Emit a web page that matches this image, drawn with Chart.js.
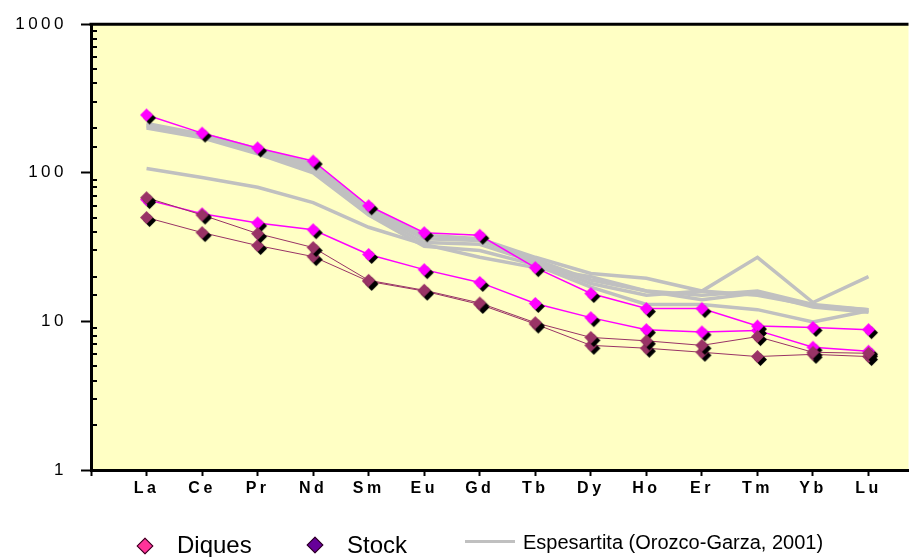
<!DOCTYPE html>
<html>
<head>
<meta charset="utf-8">
<script src="https://cdn.jsdelivr.net/npm/chart.js@4/dist/chart.umd.min.js"></script>
<style>
  body { margin: 0; background: #fff; }
  #wrap { position: relative; width: 914px; height: 557px; overflow: hidden; font-family: Arial, "Liberation Sans", sans-serif; }
  .lg { position: absolute; white-space: nowrap; line-height: 1; color: #000; }
  .dia { position: absolute; width: 12px; height: 12px; transform: rotate(45deg); border: 1px solid #2a0018; box-sizing: border-box; }
</style>
</head>
<body>
<div id="wrap">
  <canvas id="chart" width="914" height="557"></canvas>
  <div class="dia" style="left:139px;top:540px;background:#ff3399"></div>
  <div class="lg" style="left:177px;top:533px;font-size:24px">Diques</div>
  <div class="dia" style="left:309px;top:539px;background:#660099"></div>
  <div class="lg" style="left:347px;top:533px;font-size:24px">Stock</div>
  <div style="position:absolute;left:465px;top:540px;width:50px;height:3px;background:#c0c0c0"></div>
  <div class="lg" style="left:523px;top:532px;font-size:20px">Espesartita (Orozco-Garza, 2001)</div>
</div>
<script>
// REE categories
const categories = ['La', 'Ce', 'Pr', 'Nd', 'Sm', 'Eu', 'Gd', 'Tb', 'Dy', 'Ho', 'Er', 'Tm', 'Yb', 'Lu'];
const yTicks = [1, 10, 100, 1000];

// Diques
const diques1 = [245, 185, 147, 120, 60, 39.5, 38, 23, 15.4, 12.2, 12.2, 9.3, 9.1, 8.8];
const diques2 = [66, 53, 46, 41.4, 28.2, 22.3, 18.3, 13.2, 10.6, 8.8, 8.5, 8.7, 6.7, 6.3];

// Stock
const stock1 = [68, 52, 39, 31.4, 18.9, 16.2, 13.3, 9.8, 7.8, 7.4, 6.9, 7.9, 6.2, 6.1];
const stock2 = [50, 39.6, 32.4, 27.3, 18.6, 16, 13, 9.6, 6.9, 6.6, 6.2, 5.8, 6.0, 5.8];

// Espesartita (Orozco-Garza, 2001)
const esp1 = [215, 182, 145, 115, 58, 38, 36, 27, 21, 19.5, 16, 27, 13.4, 20];
const esp2 = [210, 178, 140, 110, 56, 36, 35, 26, 19, 16, 15, 16, 13, 12];
const esp3 = [205, 175, 138, 105, 54, 34, 33, 25, 18, 15, 16, 15, 12.8, 12];
const esp4 = [200, 172, 134, 100, 52, 32, 30, 24, 17, 13, 13, 12, 9.9, 11.8];
const esp5 = [107, 93, 80, 63, 43, 33, 27, 23, 20, 16, 14, 15.5, 12.5, 11.5];

const toPoints = vals => vals.map((v, i) => ({ x: i + 1, y: v }));
const isMajor = v => Math.abs(Math.log10(v) - Math.round(Math.log10(v))) < 1e-9;

// diamond marker with a black drop shadow
function diamondMarker(fill, r) {
    const off = 3;
    const size = 2 * (r + off) + 2;
    const c = document.createElement('canvas');
    c.width = c.height = size;
    const g = c.getContext('2d');
    const cx = size / 2;
    const diamond = (x, y, col) => {
        g.beginPath();
        g.moveTo(x, y - r);
        g.lineTo(x + r, y);
        g.lineTo(x, y + r);
        g.lineTo(x - r, y);
        g.closePath();
        g.fillStyle = col;
        g.fill();
    };
    diamond(cx + off, cx + off, '#000');
    diamond(cx, cx, fill);
    return c;
}

const pinkMarker = diamondMarker('#ff00ff', 6.5);
const stockMarker = diamondMarker('#993366', 6.5);

const grayLine = vals => ({
    data: toPoints(vals),
    borderColor: '#c0c0c0',
    borderWidth: 3.5,
    pointRadius: 0,
    order: 3
});
const diqueLine = vals => ({
    data: toPoints(vals),
    borderColor: '#ff00ff',
    borderWidth: 1.5,
    pointStyle: pinkMarker,
    order: 2
});
const stockLine = vals => ({
    data: toPoints(vals),
    borderColor: '#993366',
    borderWidth: 1,
    pointStyle: stockMarker,
    order: 1
});

const plotFrame = {
    id: 'plotFrame',
    beforeDraw(chart) {
        const { ctx, chartArea: a } = chart;
        ctx.save();
        ctx.fillStyle = '#ffffc4';
        ctx.fillRect(a.left, a.top, a.width, a.height);
        ctx.restore();
        ctx.letterSpacing = '3.5px';
    },
    afterDraw(chart) {
        const { ctx, chartArea: a } = chart;
        const y = chart.scales.y;
        ctx.save();
        ctx.strokeStyle = '#000';
        ctx.lineWidth = 3;
        ctx.beginPath();
        ctx.moveTo(a.left - 1.5, a.top);
        ctx.lineTo(a.right, a.top);
        ctx.stroke();
        ctx.lineWidth = 2;
        y.ticks.forEach(t => {
            if (isMajor(t.value)) return;
            const py = Math.round(y.getPixelForValue(t.value));
            ctx.beginPath();
            ctx.moveTo(a.left, py);
            ctx.lineTo(a.left + 6, py);
            ctx.stroke();
        });
        ctx.restore();
        ctx.letterSpacing = '0px';
    }
};

new Chart(document.getElementById('chart'), {
    type: 'line',
    data: {
        datasets: [
            diqueLine(diques1), diqueLine(diques2),
            stockLine(stock1), stockLine(stock2),
            grayLine(esp1), grayLine(esp2), grayLine(esp3), grayLine(esp4), grayLine(esp5)
        ]
    },
    options: {
        responsive: false,
        animation: false,
        layout: { padding: { top: 23, right: 0, left: 0, bottom: 0 } },
        elements: { line: { tension: 0 } },
        plugins: { legend: { display: false }, tooltip: { enabled: false } },
        scales: {
            x: {
                type: 'linear',
                min: 0,
                max: 14.72,
                afterBuildTicks: s => { s.ticks = [0, ...categories.map((c, i) => i + 1)].map(v => ({ value: v })); },
                afterFit: s => { s.height = 87; },
                grid: { drawOnChartArea: false, tickLength: 6, tickWidth: 2, tickColor: '#000' },
                border: { color: '#000', width: 3 },
                ticks: {
                    color: '#000',
                    font: { family: 'Arial', size: 16, weight: 'bold' },
                    padding: 3,
                    maxRotation: 0,
                    autoSkip: false,
                    callback: v => categories[v - 1] || ''
                }
            },
            y: {
                type: 'logarithmic',
                min: 1,
                max: 1000,
                afterFit: s => { s.width = 91; },
                grid: {
                    drawOnChartArea: false,
                    tickLength: 10,
                    tickWidth: 2,
                    tickColor: c => isMajor(c.tick.value) ? '#000' : 'rgba(0,0,0,0)'
                },
                border: { color: '#000', width: 3 },
                ticks: {
                    color: '#000',
                    font: { family: 'Arial', size: 17 },
                    padding: 14,
                    autoSkip: false,
                    callback: v => yTicks.includes(v) ? String(v) : ''
                }
            }
        }
    },
    plugins: [plotFrame]
});
</script>
</body>
</html>
